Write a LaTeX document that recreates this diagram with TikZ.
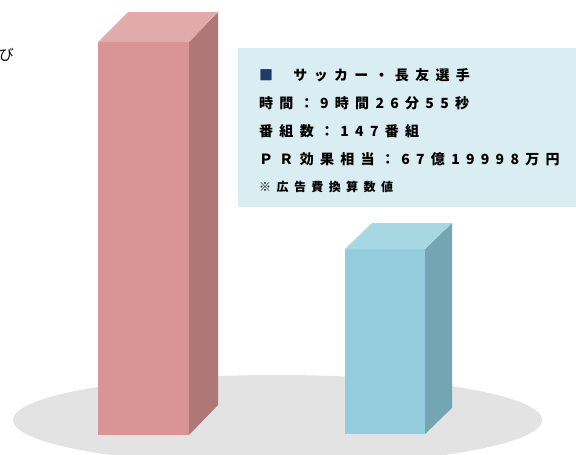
\documentclass[tikz,border=0pt]{standalone}
\usepackage{fontspec}
\usepackage{xcolor}
\usetikzlibrary{positioning}
\newfontfamily\jpfont{Noto Sans CJK JP}[LetterSpace=45]
\newfontfamily\jpplain{Noto Sans CJK JP}
\definecolor{redfront}{HTML}{D99594}
\definecolor{redside}{HTML}{AE7876}
\definecolor{redtop}{HTML}{E0ABAA}
\definecolor{bluefront}{HTML}{93CDDD}
\definecolor{blueside}{HTML}{73A6B2}
\definecolor{bluetop}{HTML}{A7D7E2}
\definecolor{floorgray}{HTML}{E3E3E3}
\definecolor{boxblue}{HTML}{DAEDF3}
\definecolor{navy}{HTML}{1F3A68}

\begin{document}
\begin{tikzpicture}[x=1pt, y=-1pt]
    \tikzstyle{line}=[anchor=west, inner sep=0pt, text=black, font=\jpfont\bfseries\fontsize{14}{14}\selectfont]
    \tikzstyle{note}=[anchor=west, inner sep=0pt, text=black, font=\jpfont\bfseries\fontsize{12}{12}\selectfont]
    \tikzstyle{floor}=[fill=floorgray, draw=none]

    \useasboundingbox (0,0) rectangle (576,455);

    % floor
    \fill[floor] (277.5,420) ellipse (264.5pt and 45pt);

    % red bar
    \fill[redfront] (98,42) rectangle (189,435);
    \fill[redside] (189,42) -- (218,12) -- (218,405) -- (189,435) -- cycle;
    \fill[redtop] (98,42) -- (128,12) -- (218,12) -- (189,42) -- cycle;

    % blue bar
    \fill[bluefront] (345,249) rectangle (425,434);
    \fill[blueside] (425,249) -- (452,223) -- (452,408) -- (425,434) -- cycle;
    \fill[bluetop] (345,249) -- (372,223) -- (452,223) -- (425,249) -- cycle;

    % text box
    \fill[boxblue] (238,48) rectangle (576,207);
    \node[line] (name) at (259,75) {\textcolor{navy}{■}　サッカー・長友選手};
    \node[line] (time) at (259,103) {時間：9時間26分55秒};
    \node[line] (prog) at (259,131) {番組数：147番組};
    \node[line] (pr) at (259,159) {ＰＲ効果相当：67億19998万円};
    \node[note] (conv) at (259,187) {※広告費換算数値};

    \node[anchor=east, inner sep=0pt, font=\jpplain\fontsize{15}{15}\selectfont] (cut) at (14,55) {び};

\end{tikzpicture}
\end{document}
